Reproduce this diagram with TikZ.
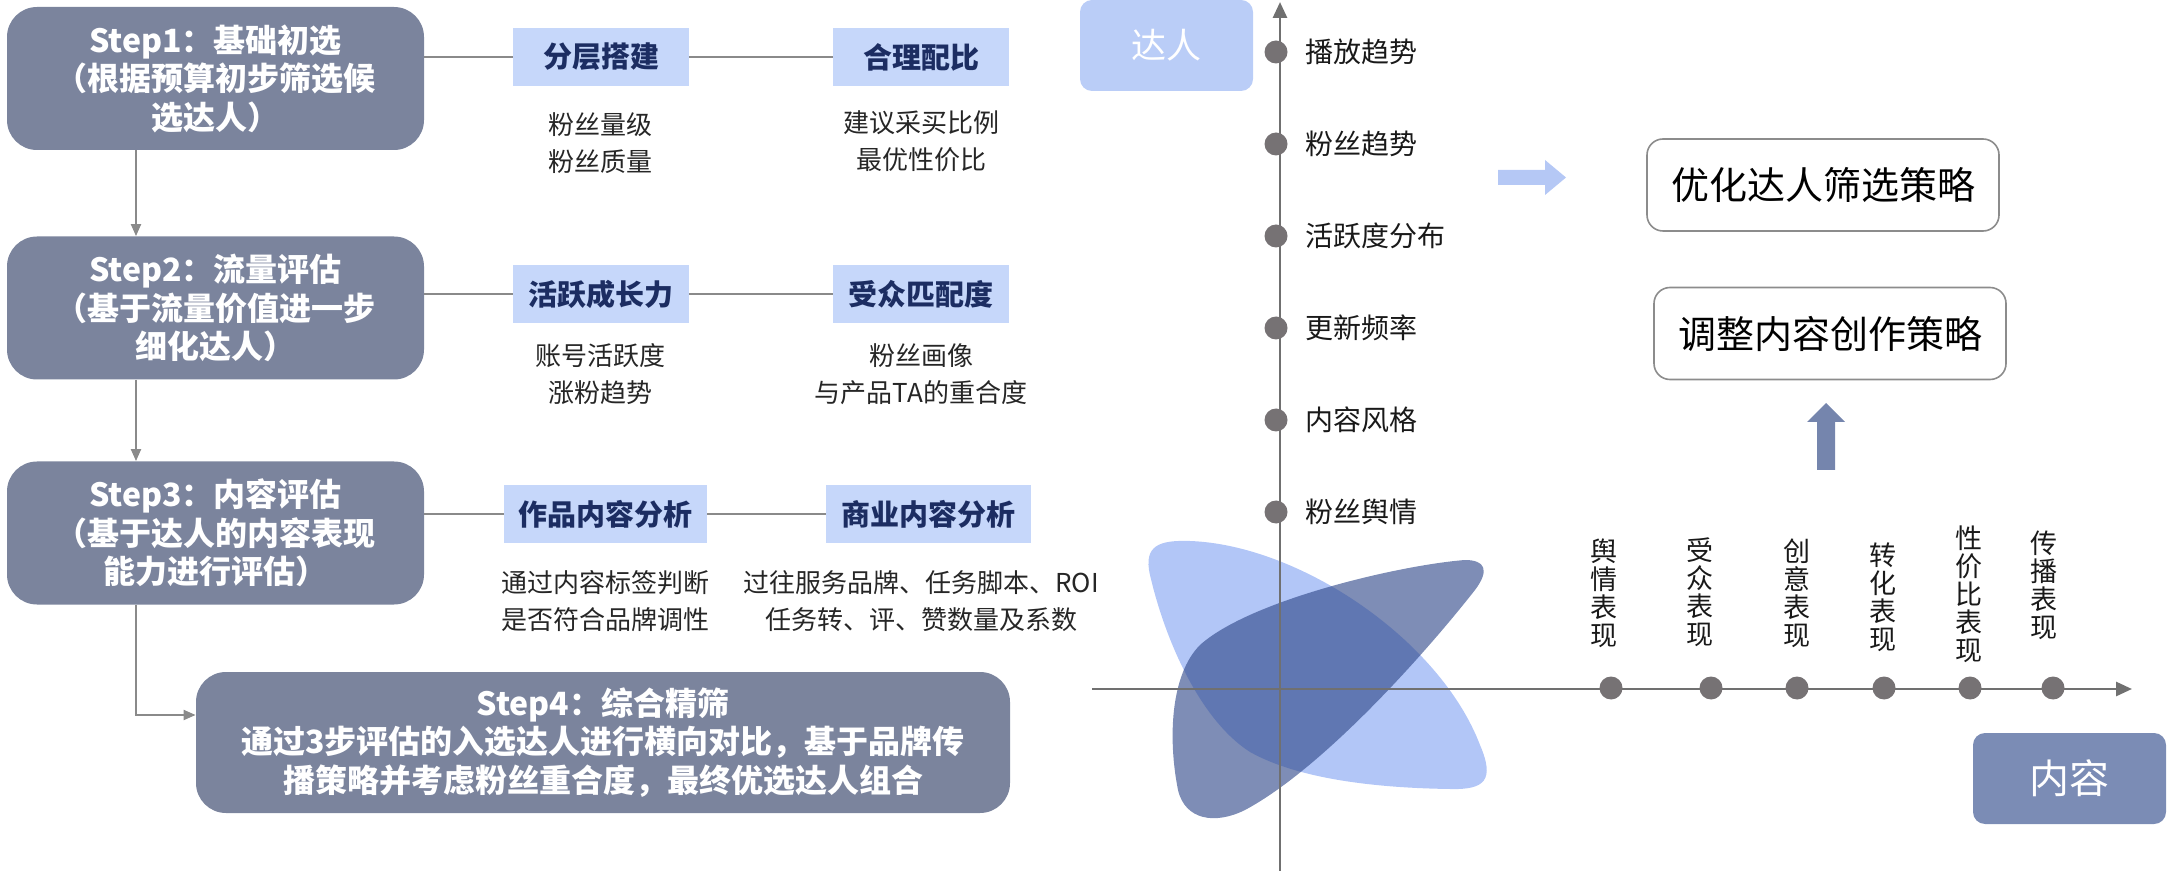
\documentclass[tikz,border=0pt]{standalone}
\usepackage{fontspec}
\setmainfont{Noto Sans CJK SC}
\usetikzlibrary{arrows.meta,positioning}
\definecolor{stepgray}{RGB}{123,132,157}
\definecolor{tagblue}{RGB}{198,215,250}
\definecolor{tagnavy}{RGB}{28,45,98}
\definecolor{linegray}{RGB}{138,138,138}
\definecolor{axisgray}{RGB}{112,112,112}
\definecolor{dotgray}{RGB}{118,114,116}
\definecolor{boxgray}{RGB}{140,140,140}
\definecolor{darenblue}{RGB}{186,205,247}
\definecolor{contentblue}{RGB}{123,140,181}
\definecolor{blobblue}{RGB}{178,198,247}
\definecolor{blobnavy}{RGB}{47,71,137}
\definecolor{arrowlight}{RGB}{181,200,245}
\definecolor{arrowslate}{RGB}{117,133,173}
\tikzset{
	stepbox/.style={rectangle,rounded corners=15pt,fill=stepgray,text=white,align=center,inner sep=0pt,
		font=\bfseries\fontsize{16}{19.25}\selectfont,minimum width=208.5pt,minimum height=71.5pt},
	tagbox/.style={fill=tagblue,text=tagnavy,inner sep=0pt,minimum height=29pt,
		font=\bfseries\fontsize{14.5}{17}\selectfont},
	note/.style={align=center,text=black!85,font=\fontsize{13}{18.5}\selectfont},
	link/.style={draw=linegray,line width=1pt},
	flow/.style={link,-{Triangle[length=6pt,width=5pt]}},
	axisline/.style={draw=axisgray,line width=1.4pt,-{Triangle[length=8pt,width=7pt]}},
	axisdot/.style={circle,fill=dotgray,inner sep=0pt,minimum size=11.5pt},
	ylab/.style={anchor=west,text=black!90,font=\fontsize{14}{16}\selectfont},
	xlab/.style={anchor=south,align=center,inner sep=0pt,text=black!90,font=\fontsize{13.5}{14}\selectfont},
	stratbox/.style={draw=boxgray,line width=0.8pt,rounded corners=8pt,minimum width=176pt,minimum height=46pt,
		font=\fontsize{19}{22}\selectfont},
	cornerbox/.style={rounded corners=6pt,text=white,inner sep=0pt,minimum width=86.5pt,minimum height=45.5pt}
}
\begin{document}
\begin{tikzpicture}[x=0.5pt,y=-0.5pt]
	\useasboundingbox (0,0) rectangle (2174,871);
	\node[stepbox] (s1) at (215.5,78.5) {Step1：基础初选\\（根据预算初步筛选候\\选达人）};
	\node[stepbox] (s2) at (215.5,308) {Step2：流量评估\\（基于流量价值进一步\\细化达人）};
	\node[stepbox] (s3) at (215.5,533) {Step3：内容评估\\（基于达人的内容表现\\能力进行评估）};
	\node[stepbox,minimum width=407pt,minimum height=70.5pt] (s4) at (603,742.5)
		{Step4：综合精筛\\通过3步评估的入选达人进行横向对比，基于品牌传\\播策略并考虑粉丝重合度，最终优选达人组合};
	\node[tagbox,minimum width=88pt] (t1a) at (601,57) {分层搭建};
	\node[tagbox,minimum width=88pt] (t1b) at (921,57) {合理配比};
	\node[tagbox,minimum width=88pt] (t2a) at (601,294) {活跃成长力};
	\node[tagbox,minimum width=88pt] (t2b) at (921,294) {受众匹配度};
	\node[tagbox,minimum width=101.5pt] (t3a) at (605.5,514) {作品内容分析};
	\node[tagbox,minimum width=102.5pt] (t3b) at (928.5,514) {商业内容分析};
	\node[note] (n1a) at (600,143) {粉丝量级\\粉丝质量};
	\node[note] (n1b) at (921,141) {建议采买比例\\最优性价比};
	\node[note] (n2a) at (600,374) {账号活跃度\\涨粉趋势};
	\node[note] (n2b) at (921,374) {粉丝画像\\与产品TA的重合度};
	\node[note] (n3a) at (605,601) {通过内容标签判断\\是否符合品牌调性};
	\node[note] (n3b) at (921,601) {过往服务品牌、任务脚本、ROI\\任务转、评、赞数量及系数};
	\draw[link] (s1.east |- t1a) -- (t1a.west) (t1a.east) -- (t1b.west);
	\draw[link] (s2.east |- t2a) -- (t2a.west) (t2a.east) -- (t2b.west);
	\draw[link] (s3.east |- t3a) -- (t3a.west) (t3a.east) -- (t3b.west);
	\draw[flow] ([xshift=-39.75pt]s1.south) -- ([xshift=-39.75pt]s2.north);
	\draw[flow] ([xshift=-39.75pt]s2.south) -- ([xshift=-39.75pt]s3.north);
	\draw[flow] ([xshift=-39.75pt]s3.south) |- ([yshift=13.75pt]s4.west);

	\fill[blobblue] (1190,541) .. controls (1300,545) and (1440,640) .. (1480,745)
		.. controls (1495,780) and (1485,790) .. (1450,789)
		.. controls (1380,788) and (1300,780) .. (1250,752)
		.. controls (1200,720) and (1165,640) .. (1150,575)
		.. controls (1143,545) and (1160,540) .. (1190,541) -- cycle;
	\fill[blobnavy,fill opacity=0.62] (1465,560) .. controls (1400,565) and (1250,600) .. (1200,645)
		.. controls (1170,675) and (1168,740) .. (1178,790)
		.. controls (1185,820) and (1215,825) .. (1245,810)
		.. controls (1320,770) and (1420,660) .. (1475,590)
		.. controls (1490,570) and (1485,560) .. (1465,560) -- cycle;
	\coordinate (ybot) at (1280,871);
	\coordinate (ytop) at (1280,2);
	\coordinate (xleft) at (1092,689);
	\coordinate (xright) at (2132,689);
	\draw[axisline] (ybot) -- (ytop);
	\draw[axisline] (xleft) -- (xright);
	\foreach \y/\t in {52/播放趋势,144/粉丝趋势,236/活跃度分布,328/更新频率,420/内容风格,512/粉丝舆情}{
		\node[axisdot] (yd\y) at (1276,\y) {};
		\node[ylab] (yl\y) at (1298,\y) {\t};
	}
	\foreach \x/\lx/\b/\t in {1611/1604/648/{舆\\情\\表\\现},1711/1700/647/{受\\众\\表\\现},1797/1797/648/{创\\意\\表\\现},
		1884/1883/652/{转\\化\\表\\现},1970/1969/663/{性\\价\\比\\表\\现},2053/2044/640/{传\\播\\表\\现}}{
		\node[axisdot] (xd\x) at (\x,688) {};
		\node[xlab] (xl\x) at (\lx,\b) {\t};
	}
	\node[cornerbox,fill=darenblue,font=\fontsize{17.5}{20}\selectfont] (daren) at (1166.5,45.5) {达人};
	\node[cornerbox,fill=contentblue,minimum width=96.5pt,font=\fontsize{20}{22}\selectfont] (neirong) at (2069.5,778.5) {内容};
	\node[stratbox] (st1) at (1823,185) {优化达人筛选策略};
	\node[stratbox] (st2) at (1830,333.5) {调整内容创作策略};
	\fill[arrowlight] (1498,170) -- (1545,170) -- (1545,160) -- (1566,177.5) -- (1545,195) -- (1545,185) -- (1498,185) -- cycle;
	\fill[arrowslate] (1817,470) -- (1817,422) -- (1807,422) -- (1826,403) -- (1845,422) -- (1835,422) -- (1835,470) -- cycle;
\end{tikzpicture}
\end{document}
